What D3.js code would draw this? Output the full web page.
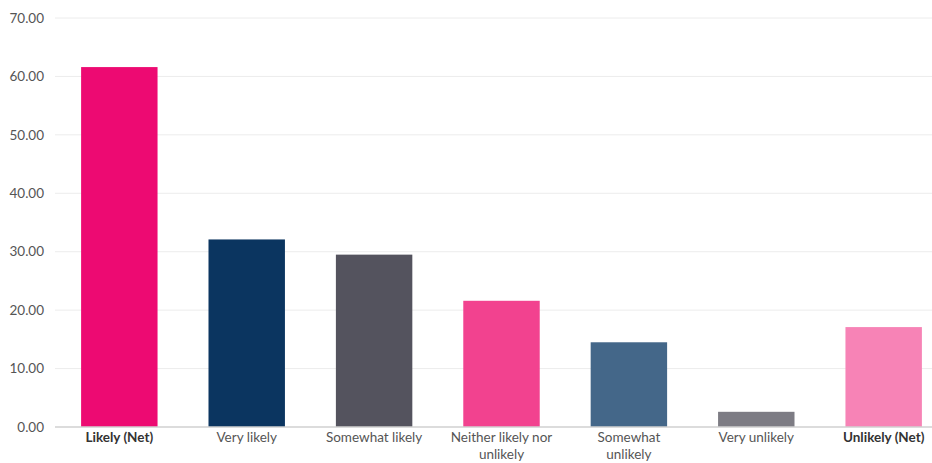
<!DOCTYPE html>
<html>
<head>
<meta charset="utf-8">
<script src="https://cdn.jsdelivr.net/npm/d3@7"></script>
<style>
  html, body { margin: 0; padding: 0; background: #fff; }
  svg { display: block; font-family: Lato, "Open Sans", sans-serif; }
</style>
</head>
<body>
<svg id="chart" width="932" height="463"></svg>
<script>
// Response categories (label lines for wrapping under each bar)
const categories = [
  "Likely (Net)", "Very likely", "Somewhat likely", "Neither likely nor unlikely",
  "Somewhat unlikely", "Very unlikely", "Unlikely (Net)"
];
const labelLines = [
  ["Likely (Net)"], ["Very likely"], ["Somewhat likely"], ["Neither likely nor", "unlikely"],
  ["Somewhat", "unlikely"], ["Very unlikely"], ["Unlikely (Net)"]
];
const netCategories = ["Likely (Net)", "Unlikely (Net)"];
// Share of respondents (%)
const values = [61.6, 32.1, 29.5, 21.6, 14.5, 2.6, 17.1];
const barColors = ["#ED0A72", "#0B3560", "#54535E", "#F2428F", "#446789", "#7D7C84", "#F783B6"];
const yTicks = [0, 10, 20, 30, 40, 50, 60, 70];

const svg = d3.select("#chart");
const plotLeft = 55, plotRight = 932, plotTop = 18, plotBottom = 427;

const x = d3.scaleBand()
  .domain(categories)
  .range([62, 941])
  .paddingInner(0.4)
  .paddingOuter(0.15);

const y = d3.scaleLinear()
  .domain([0, 70])
  .range([plotBottom, plotTop]);

// Horizontal gridlines
svg.append("g")
  .selectAll("line")
  .data(yTicks.filter(d => d > 0))
  .join("line")
  .attr("x1", plotLeft).attr("x2", plotRight)
  .attr("y1", d => y(d)).attr("y2", d => y(d))
  .attr("stroke", "#ececec")
  .attr("stroke-width", 1);

// Y axis labels
svg.append("g")
  .selectAll("text")
  .data(yTicks)
  .join("text")
  .attr("x", 44)
  .attr("y", d => y(d))
  .attr("dy", "0.35em")
  .attr("text-anchor", "end")
  .attr("font-size", 13.5)
  .attr("fill", "#555")
  .text(d => d3.format(".2f")(d));

// Bars
svg.append("g")
  .selectAll("rect")
  .data(values)
  .join("rect")
  .attr("x", (d, i) => x(categories[i]))
  .attr("width", x.bandwidth())
  .attr("y", d => y(d))
  .attr("height", d => y(0) - y(d))
  .attr("fill", (d, i) => barColors[i]);

// Baseline
svg.append("line")
  .attr("x1", plotLeft).attr("x2", plotRight)
  .attr("y1", y(0)).attr("y2", y(0))
  .attr("stroke", "#d0d0d0")
  .attr("stroke-width", 1.5);

// Category labels
const lbl = svg.append("g")
  .selectAll("text")
  .data(categories)
  .join("text")
  .attr("x", d => x(d) + x.bandwidth() / 2)
  .attr("y", 442)
  .attr("text-anchor", "middle")
  .attr("font-size", 13.5)
  .attr("font-weight", d => netCategories.includes(d) ? 700 : 400)
  .attr("fill", d => netCategories.includes(d) ? "#333" : "#555");

lbl.each(function(d, i) {
  d3.select(this).selectAll("tspan")
    .data(labelLines[i])
    .join("tspan")
    .attr("x", x(d) + x.bandwidth() / 2)
    .attr("dy", (t, j) => j === 0 ? 0 : 17)
    .text(t => t);
});
</script>
</body>
</html>
